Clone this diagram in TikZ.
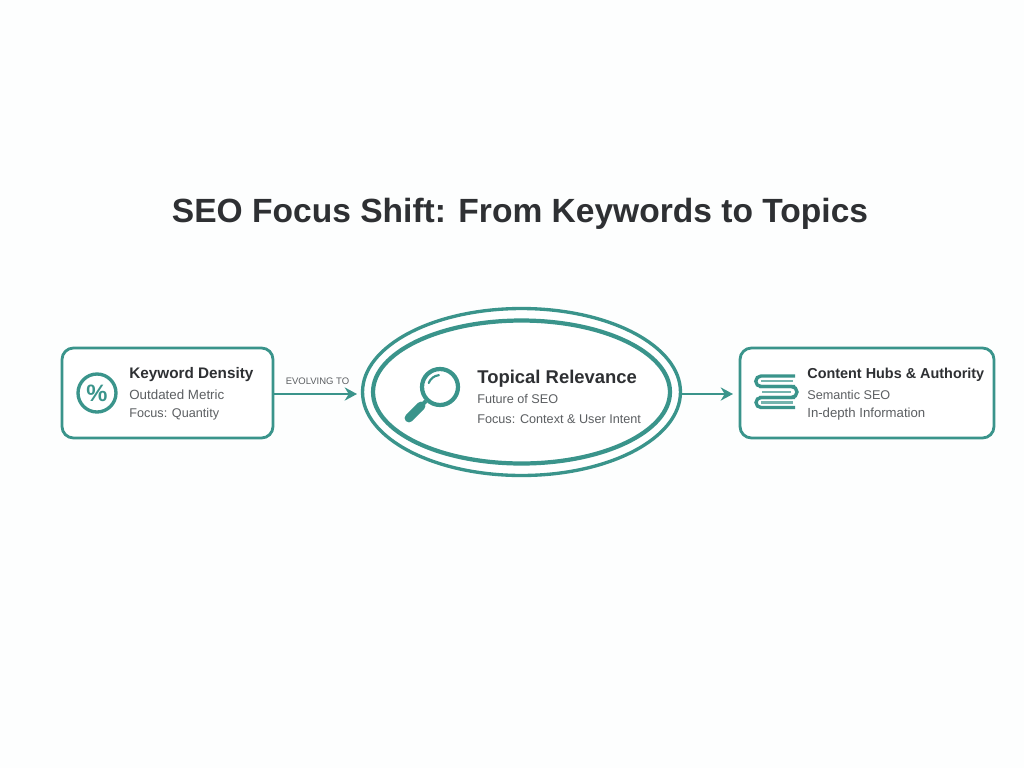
\documentclass[tikz,border=0pt]{standalone}
\usepackage{fontspec}
\setmainfont{Liberation Sans}
\usetikzlibrary{arrows.meta,shapes.geometric}
\definecolor{TealLine}{HTML}{3A948B}
\definecolor{HeadText}{HTML}{2E3033}
\definecolor{BodyText}{HTML}{5C5F62}
\tikzset{
    cardbox/.style={draw=TealLine, line width=1.6pt, rounded corners=6.5pt, fill=white, inner sep=0pt},
    headtext/.style={anchor=west, inner sep=0pt, text=HeadText, font=\fontsize{8.7pt}{10pt}\selectfont\bfseries},
    bodytext/.style={anchor=west, inner sep=0pt, text=BodyText, font=\fontsize{7.2pt}{9pt}\selectfont},
    flowline/.style={draw=TealLine, line width=1.5pt, -{Stealth[length=7pt,width=7.5pt]}},
    iconline/.style={draw=TealLine, line width=1.9pt}
}
\begin{document}
\begin{tikzpicture}[x=0.02cm, y=-0.02cm]
    \useasboundingbox (0,0) rectangle (1024,768);
    \fill[color=white!99!TealLine] (0,0) rectangle (1024,768); %Background

    %Title
    \node[inner sep=0pt, text=HeadText, font=\fontsize{19.1pt}{22pt}\selectfont\bfseries] (title) at (520,214) {SEO Focus Shift: From Keywords to Topics};

    %Left card
    \node[cardbox, minimum width=4.22cm, minimum height=1.8cm] (density) at (167.5,393) {};
    \node[headtext] (densityhead) at (129,375) {Keyword Density};
    \node[bodytext, font=\fontsize{7.6pt}{9pt}\selectfont] (densityone) at (129,395) {Outdated Metric};
    \node[bodytext] (densitytwo) at (129,414) {Focus: Quantity};

    %Percent icon
    \node[iconline, draw, circle, minimum size=0.76cm, inner sep=0pt, text=TealLine, font=\fontsize{13.5pt}{14pt}\selectfont\bfseries] (percent) at (97,393) {\%};

    %Centre ring
    \node[draw=TealLine, line width=1.9pt, ellipse, minimum width=6.36cm, minimum height=3.34cm, inner sep=0pt, fill=white] (ring) at (521.5,392) {};
    \node[draw=TealLine, line width=2.4pt, ellipse, minimum width=5.94cm, minimum height=2.86cm, inner sep=0pt] (innerring) at (521.5,392) {};
    \node[headtext, font=\fontsize{10.5pt}{12pt}\selectfont\bfseries] (topichead) at (477,378.5) {Topical Relevance};
    \node[bodytext] (topicone) at (477,399) {Future of SEO};
    \node[bodytext] (topictwo) at (477,419) {Focus: Context \& User Intent};

    %Magnifier icon
    \node[iconline, draw, line width=2.4pt, circle, minimum size=0.72cm, inner sep=0pt] (lens) at (440,387) {};
    \draw[TealLine, line width=1.2pt, line cap=round] (428.7,383) arc (200:265:12); %Glint
    \draw[TealLine, line width=2.4pt] (lens.225) -- (421,406); %Neck
    \draw[TealLine, line width=5pt, line cap=round] (421,406) -- (409,418); %Handle

    %Right card
    \node[cardbox, minimum width=5.08cm, minimum height=1.8cm] (hubs) at (867,393) {};
    \node[headtext, font=\fontsize{8.2pt}{10pt}\selectfont\bfseries] (hubshead) at (807,374.5) {Content Hubs \& Authority};
    \node[bodytext] (hubsone) at (807,395) {Semantic SEO};
    \node[bodytext, font=\fontsize{7.5pt}{9pt}\selectfont] (hubstwo) at (807,414) {In-depth Information};

    %Book icon
    \draw[iconline] (795,376) -- (761,376) arc (270:90:5.25) -- (795,386.5); %Top book
    \draw[iconline] (759,386.5) -- (791.5,386.5) arc (-90:90:5.5) -- (759,397.5); %Middle book
    \draw[iconline] (795,397.5) -- (761,397.5) arc (270:90:5) -- (795,407.5); %Bottom book
    \draw[TealLine!70, line width=1.3pt] (761,381.2) -- (793,381.2); %Top pages
    \draw[TealLine!70, line width=1.3pt] (762,392) -- (791,392); %Middle pages
    \draw[TealLine!70, line width=1.3pt] (761,402.5) -- (793,402.5); %Bottom pages

    %Arrows
    \coordinate (lefttip) at (357,394);
    \coordinate (righttip) at (733,394);
    \draw[flowline] (density.east |- lefttip) -- (lefttip);
    \draw[flowline] (ring.east |- righttip) -- (righttip);
    \node[inner sep=0pt, text=BodyText, font=\fontsize{5.4pt}{6pt}\selectfont] (evolving) at (317.5,381.5) {EVOLVING TO};
\end{tikzpicture}
\end{document}
